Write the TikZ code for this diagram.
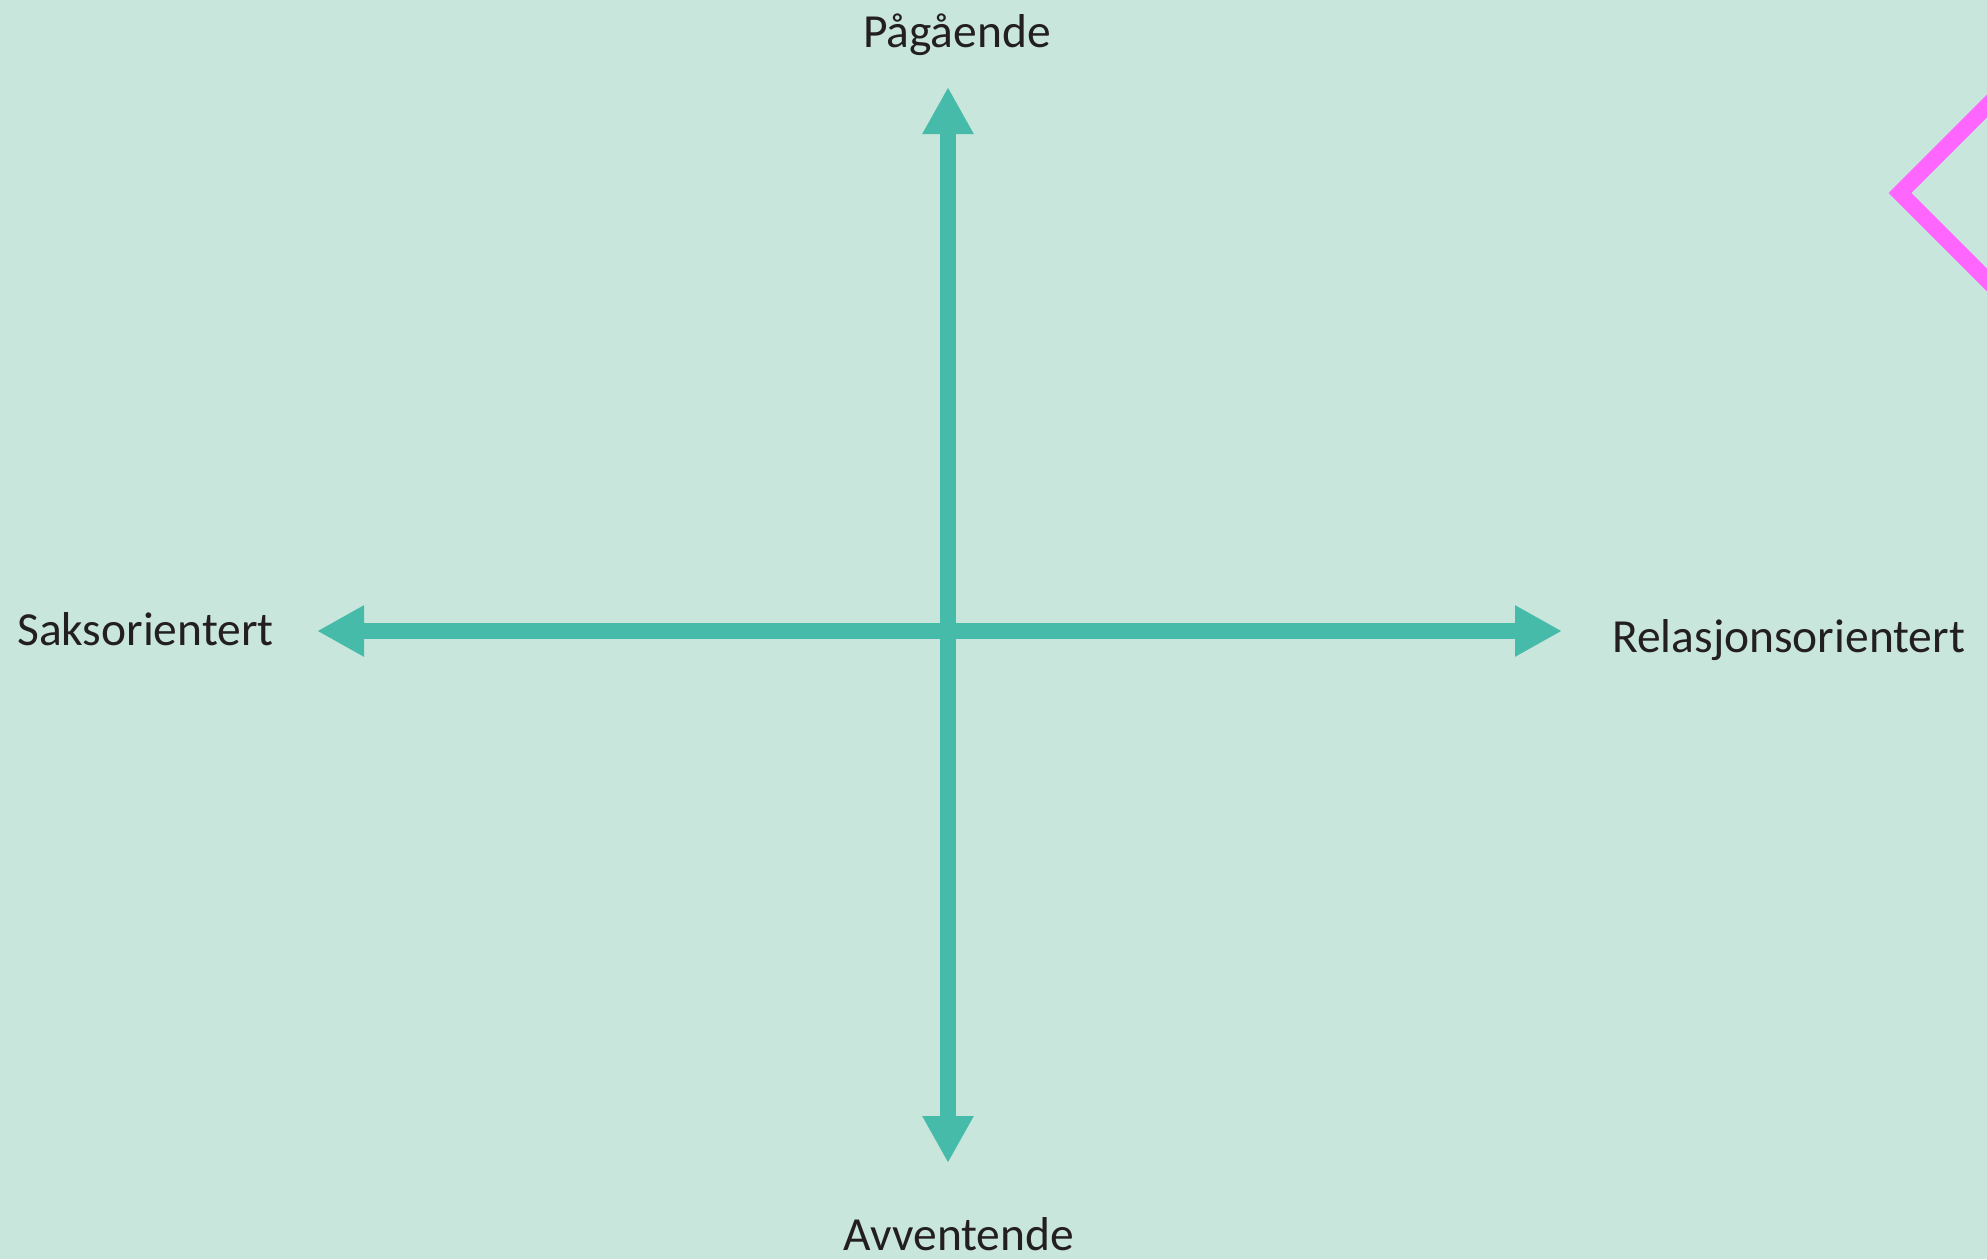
\documentclass[tikz,border=0pt]{standalone}
\usepackage{fontspec}
\setmainfont{Carlito}
\usetikzlibrary{arrows.meta}
\definecolor{bg}{HTML}{C9E6DC}
\definecolor{axis}{HTML}{47BBA9}
\definecolor{pink}{HTML}{FF66FF}
\definecolor{txt}{HTML}{231F20}
\tikzset{
  axisline/.style={draw=axis, line width=16pt, {Triangle[width=48pt,length=47pt]}-{Triangle[width=48pt,length=47pt]}},
  lbl/.style={inner sep=0pt, text=txt, font=\fontsize{47.5}{57}\selectfont},
}
\begin{document}
\begin{tikzpicture}[x=1pt,y=-1pt]
\useasboundingbox (0,0) rectangle (1987,1259);
\fill[bg] (0,0) rectangle (1987,1259);
\coordinate (top) at (948,87);
\coordinate (bot) at (948,1163);
\coordinate (left) at (317,631);
\coordinate (right) at (1562,631);
\draw[axisline] (bot) -- (top);
\draw[axisline] (left) -- (right);
\begin{scope}
\clip (0,0) rectangle (1987,1259);
\coordinate (c1) at (2010,83);
\coordinate (cv) at (1900,193);
\coordinate (c2) at (2010,303);
\draw[pink, line width=16pt, miter limit=10] (c1) -- (cv) -- (c2);
\end{scope}
\node[lbl, anchor=base] (pag) at (957,47) {Pågående};
\node[lbl, anchor=base] (avv) at (959,1250) {Avventende};
\node[lbl, anchor=base west] (sak) at (17,645) {Saksorientert};
\node[lbl, anchor=base west] (rel) at (1612,652) {Relasjonsorientert};
\end{tikzpicture}
\end{document}
